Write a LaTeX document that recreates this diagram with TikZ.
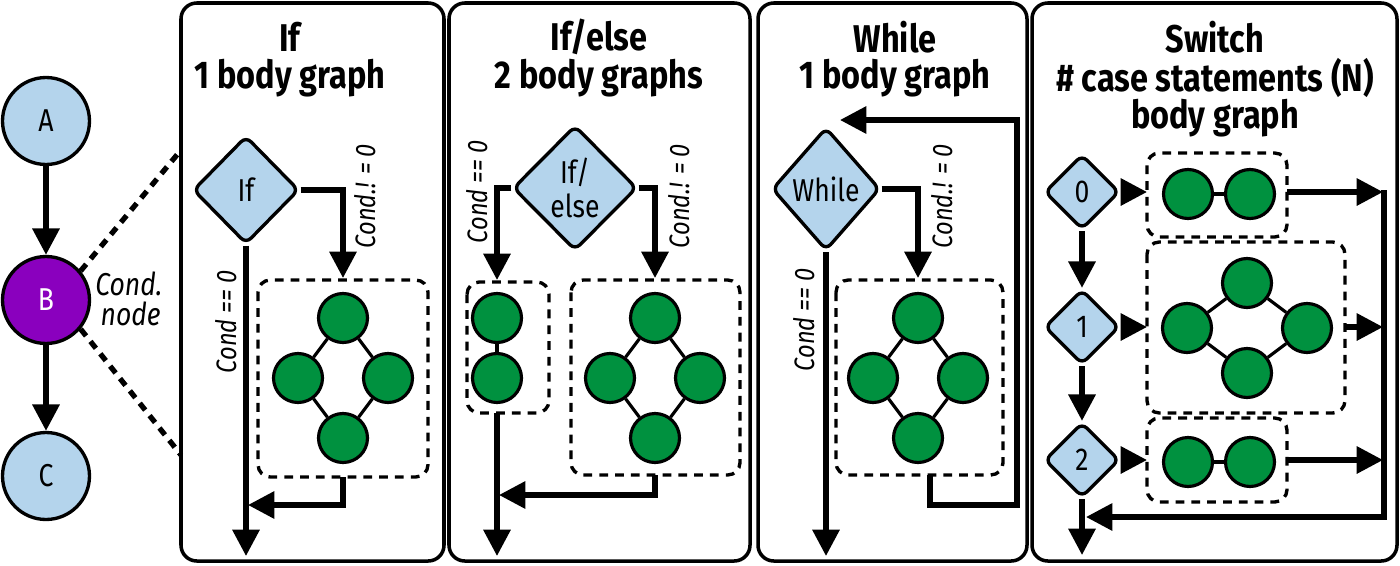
\documentclass[tikz,border=0pt]{standalone}
\usepackage{fontspec}
\setmainfont{Fira Sans}[FakeStretch=0.84]
\usetikzlibrary{shapes.geometric,arrows.meta}
\definecolor{condblue}{HTML}{B4D4EC}
\definecolor{condpurple}{HTML}{8A00BE}
\definecolor{bodygreen}{HTML}{00913F}

% four node diamond body graph: #1 prefix, (#2,#3) centre, #4 half width, #5 half height
\newcommand{\quadgraph}[5]{%
  \node[bnode] (#1t) at (#2,#3-#5) {};
  \node[bnode] (#1l) at (#2-#4,#3) {};
  \node[bnode] (#1r) at (#2+#4,#3) {};
  \node[bnode] (#1b) at (#2,#3+#5) {};
  \draw[thin line] (#1t) -- (#1l) -- (#1b) -- (#1r) -- (#1t);
}

\begin{document}
\begin{tikzpicture}[x=0.02cm, y=-0.02cm,
    panel/.style={draw, line width=2pt, rounded corners=9pt},
    body/.style={draw, line width=1.9pt, dash pattern=on 5pt off 4pt, rounded corners=7pt},
    bnode/.style={circle, draw, line width=1.8pt, fill=bodygreen, minimum size=0.98cm, inner sep=0pt},
    big/.style={circle, draw, line width=1.9pt, minimum size=1.74cm, font=\fontsize{18}{18}\selectfont},
    cond/.style={diamond, draw, line width=1.9pt, fill=condblue, rounded corners=4pt, inner sep=0pt, font=\fontsize{18}{19}\selectfont, align=center},
    flow/.style={line width=3pt, -{Triangle[length=15pt, width=15pt]}},
    thin line/.style={line width=1.8pt},
    title/.style={font=\fontsize{22}{22}\selectfont\bfseries},
    lab/.style={font=\fontsize{16}{16}\selectfont\itshape, rotate=90}]

  \useasboundingbox (0,0) rectangle (1400,565);

  % the outer graph
  \node[big, fill=condblue] (A) at (46,121) {A};
  \node[big, fill=condpurple, text=white] (B) at (46,300) {B};
  \node[big, fill=condblue] (C) at (46,476) {C};
  \node[font=\fontsize{18}{17}\selectfont\itshape, align=left, anchor=west, inner sep=0pt] (condlab) at (95,299) {Cond.\\\hspace{3pt}node};
  \draw[flow] (A) -- (B);
  \draw[flow] (B) -- (C);
  \coordinate (zt) at (181,150);
  \coordinate (zb) at (181,455);
  \draw[line width=3pt, dash pattern=on 5pt off 4pt] (B.40) -- (zt);
  \draw[line width=3pt, dash pattern=on 5pt off 4pt] (B.-40) -- (zb);

  % panels
  \draw[panel] (181,3) rectangle (444,561);
  \draw[panel] (449,3) rectangle (750,561);
  \draw[panel] (758,3) rectangle (1027,561);
  \draw[panel] (1032,3) rectangle (1397,561);

  % If
  \node[title] (t1) at (290,37) {If};
  \node[title] (s1) at (290,78) {1 body graph};
  \node[cond, minimum width=2.12cm, minimum height=2.16cm] (if) at (246,190) {If};
  \draw[body] (258,280) rectangle (428,477);
  \quadgraph{p}{343}{378}{45}{60}
  \coordinate (ifend) at (246,556);
  \coordinate (ifin) at (343,278);
  \coordinate (ifout) at (343,477);
  \coordinate (ifret) at (248,505);
  \draw[flow] (if.south) -- (ifend);
  \draw[flow] (if.east) -| (ifin);
  \draw[flow] (ifout) |- (ifret);
  \node[lab] (l1) at (226,322) {Cond == 0};
  \node[lab] (l2) at (365,196) {Cond.! = 0};

  % If/else
  \node[title] (t2) at (599,37) {If/else};
  \node[title] (s2) at (599,78) {2 body graphs};
  \node[cond, minimum width=2.48cm, minimum height=2.5cm] (ifelse) at (575,188) {If/\\else};
  \draw[body] (467,282) rectangle (549,413);
  \node[bnode] (q1) at (497,318) {};
  \node[bnode] (q2) at (497,378) {};
  \draw[thin line] (q1) -- (q2);
  \draw[body] (571,280) rectangle (740,475);
  \quadgraph{q}{655}{378}{45}{60}
  \coordinate (ein) at (497,280);
  \coordinate (tin) at (655,278);
  \coordinate (eout) at (497,413);
  \coordinate (eend) at (497,556);
  \coordinate (tout) at (655,475);
  \coordinate (tret) at (499,495);
  \draw[flow] (ifelse.west) -| (ein);
  \draw[flow] (ifelse.east) -| (tin);
  \draw[flow] (eout) -- (eend);
  \draw[flow] (tout) |- (tret);
  \node[lab] (l3) at (477,192) {Cond == 0};
  \node[lab] (l4) at (679,196) {Cond.! = 0};

  % While
  \node[title] (t3) at (895,37) {While};
  \node[title] (s3) at (895,78) {1 body graph};
  \node[cond, minimum width=2.16cm, minimum height=2.46cm] (wh) at (826,189) {While};
  \draw[body] (836,280) rectangle (1003,475);
  \quadgraph{w}{918}{378}{45}{60}
  \coordinate (wend) at (826,556);
  \coordinate (win) at (918,278);
  \coordinate (wout) at (930,475);
  \coordinate (wc1) at (930,505);
  \coordinate (wc2) at (1017,505);
  \coordinate (wc3) at (1017,120);
  \coordinate (wret) at (840,120);
  \draw[flow] (wh.south) -- (wend);
  \draw[flow] (wh.east) -| (win);
  \draw[flow] (wout) -- (wc1) -- (wc2) -- (wc3) -- (wret);
  \node[lab] (l5) at (804,320) {Cond == 0};
  \node[lab] (l6) at (942,196) {Cond.! = 0};

  % Switch
  \node[title] (t4) at (1215,37) {Switch};
  \node[title] (s4) at (1215,78) {\# case statements (N)};
  \node[title] (u4) at (1215,118) {body graph};
  \foreach \n/\y in {0/192, 1/327, 2/460}
    \node[cond, minimum size=1.5cm] (c\n) at (1082,\y) {\n};
  \draw[body] (1147,153) rectangle (1287,237);
  \node[bnode] (a1) at (1188,194) {};
  \node[bnode] (a2) at (1250,194) {};
  \draw[thin line] (a1) -- (a2);
  \draw[body] (1147,242) rectangle (1345,413);
  \quadgraph{s}{1247}{328}{60}{45}
  \draw[body] (1147,418) rectangle (1287,502);
  \node[bnode] (b1) at (1188,462) {};
  \node[bnode] (b2) at (1250,462) {};
  \draw[thin line] (b1) -- (b2);
  \coordinate (cend) at (1082,555);
  \foreach \n/\y/\x in {0/192/1287, 1/327/1345, 2/460/1287} {
    \coordinate (in\n) at (1147,\y);
    \coordinate (out\n) at (\x,\y);
    \coordinate (bus\n) at (1383,\y);
    \draw[flow] (c\n) -- (in\n);
    \draw[flow] (out\n) -- (bus\n);
  }
  \coordinate (bustop) at (1384,190);
  \coordinate (busbot) at (1384,517);
  \coordinate (busret) at (1086,517);
  \draw[flow] (c0) -- (c1);
  \draw[flow] (c1) -- (c2);
  \draw[flow] (c2) -- (cend);
  \draw[flow] (bustop) -- (busbot) -- (busret);
\end{tikzpicture}
\end{document}
